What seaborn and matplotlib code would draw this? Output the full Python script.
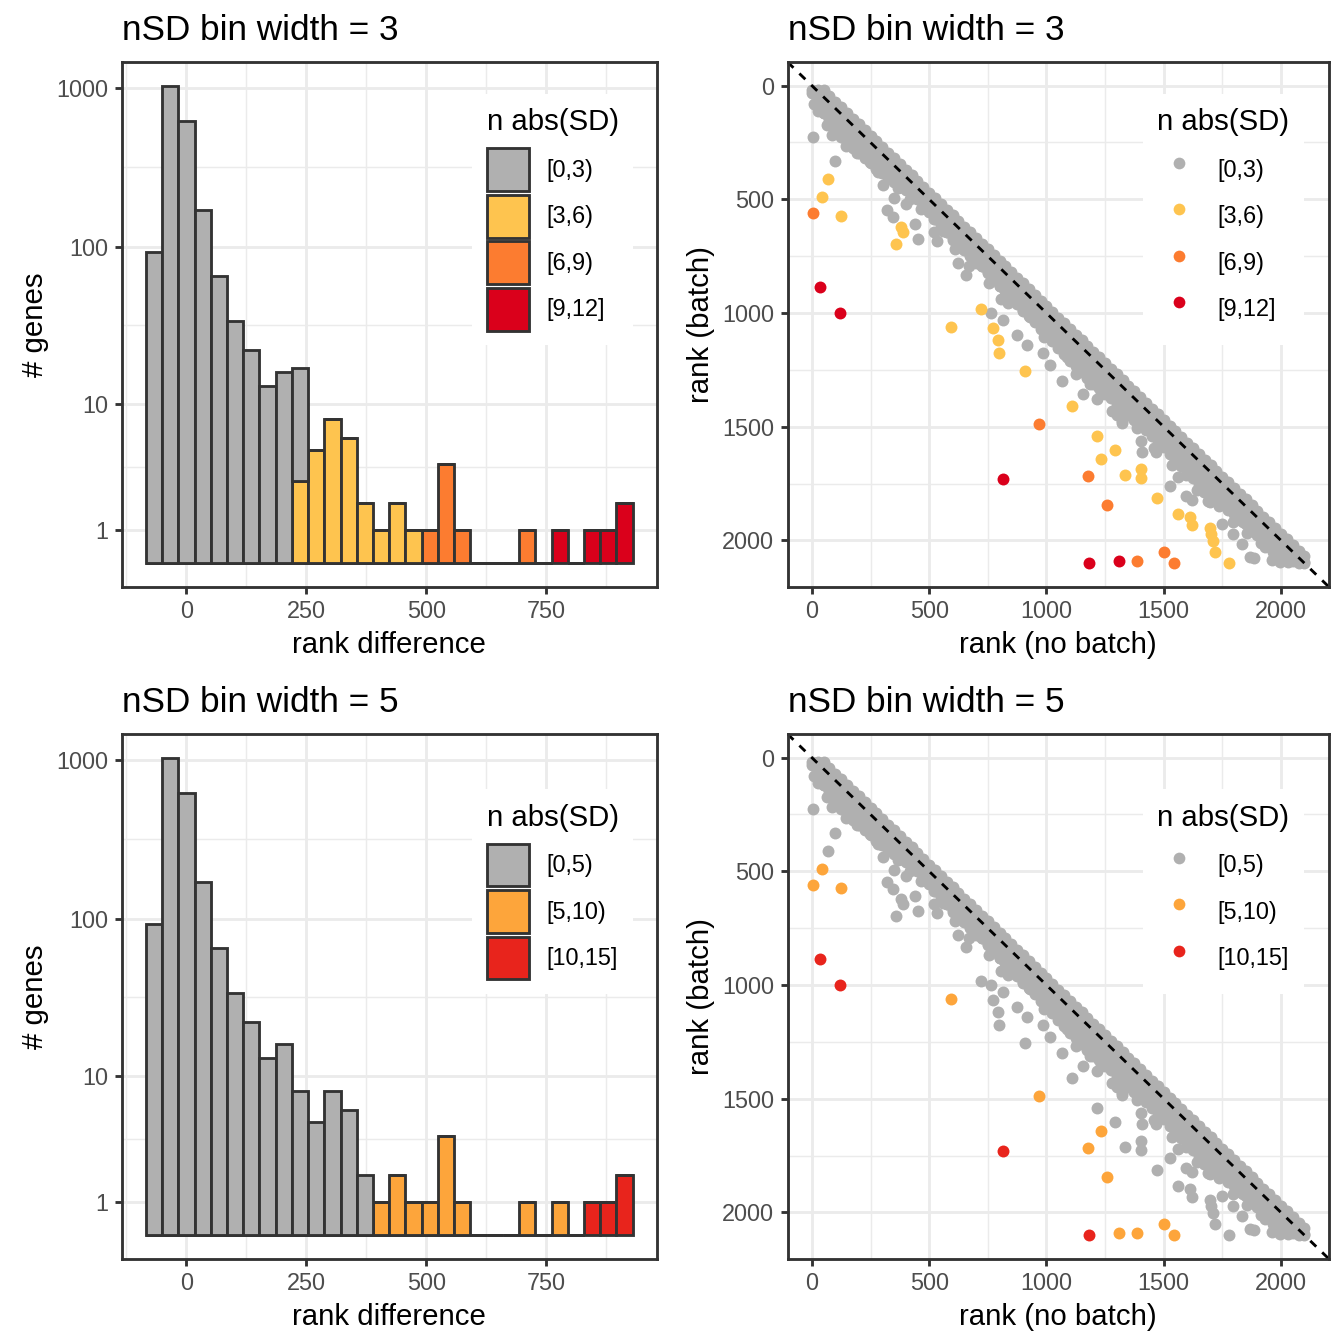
import numpy as np
import pandas as pd
import matplotlib
matplotlib.use("Agg")
import matplotlib.pyplot as plt
import seaborn as sns
from matplotlib.patches import Patch
from matplotlib.lines import Line2D

# ---------------- histogram data (counts per bin of rank difference) ----------------
bin_centers = [-67.7, -33.8, 0.0, 33.8, 67.7, 101.5, 135.4, 169.2, 203.0, 236.9,
               270.7, 304.6, 338.4, 372.3, 406.1, 440.0, 473.8, 507.6, 541.5, 575.3,
               609.2, 643.0, 676.9, 710.7, 744.5, 778.4, 812.2, 846.1, 879.9, 913.7]
bin_width = 33.84

# nSD bin width = 3
top_gray   = [92, 1035, 619, 170, 65, 34, 22, 13, 16, 5, 0, 0, 0, 0, 0, 0, 0, 0, 0, 0, 0, 0, 0, 0, 0, 0, 0, 0, 0, 0]
top_yellow = [0, 0, 0, 0, 0, 0, 0, 0, 0, 3, 5, 8, 6, 2, 1, 2, 1, 0, 0, 0, 0, 0, 0, 0, 0, 0, 0, 0, 0, 0]
top_orange = [0, 0, 0, 0, 0, 0, 0, 0, 0, 0, 0, 0, 0, 0, 0, 0, 0, 1, 4, 1, 0, 0, 0, 1, 0, 0, 0, 0, 0, 0]
top_red    = [0, 0, 0, 0, 0, 0, 0, 0, 0, 0, 0, 0, 0, 0, 0, 0, 0, 0, 0, 0, 0, 0, 0, 0, 0, 1, 0, 1, 1, 2]
# nSD bin width = 5
bot_gray   = [92, 1035, 619, 170, 65, 34, 22, 13, 16, 8, 5, 8, 6, 2, 0, 0, 0, 0, 0, 0, 0, 0, 0, 0, 0, 0, 0, 0, 0, 0]
bot_orange = [0, 0, 0, 0, 0, 0, 0, 0, 0, 0, 0, 0, 0, 0, 1, 2, 1, 1, 4, 1, 0, 0, 0, 1, 0, 1, 0, 0, 0, 0]
bot_red    = [0, 0, 0, 0, 0, 0, 0, 0, 0, 0, 0, 0, 0, 0, 0, 0, 0, 0, 0, 0, 0, 0, 0, 0, 0, 0, 0, 1, 1, 2]

top_levels = ["[0,3)", "[3,6)", "[6,9)", "[9,12]"]
bot_levels = ["[0,5)", "[5,10)", "[10,15]"]
top_colors = ["#B0B0B0", "#FEC44F", "#FC7C30", "#DA001B"]
bot_colors = ["#B0B0B0", "#FDA53B", "#E8241C"]
top_breaks = [0, 3, 6, 9, 12]
bot_breaks = [0, 5, 10, 15]
sd_rank = 80.0

# ---------------- scatter data (rank without / with batch) ----------------
# dense diagonal band: sampled ranks, offsets of its rows and the depth of its lower edge
band_rank = [1, 25, 50, 75, 100, 125, 150, 175, 200, 225, 250, 275, 300, 325, 350, 375, 400,
             425, 450, 475, 500, 525, 550, 575, 600, 625, 650, 675, 700, 725, 750, 775, 800,
             825, 850, 875, 900, 925, 950, 975, 1000, 1025, 1050, 1075, 1100, 1125, 1150, 1175,
             1200, 1225, 1250, 1275, 1300, 1325, 1350, 1375, 1400, 1425, 1450, 1475, 1500, 1525,
             1550, 1575, 1600, 1625, 1650, 1675, 1700, 1725, 1750, 1775, 1800, 1825, 1850, 1875,
             1900, 1925, 1950, 1975, 2000, 2025, 2050, 2075, 2100]
band_deep = [30, 50, 70, 90, 100, 100, 100, 100, 95, 95, 90, 90, 85, 80, 75, 70, 60,
             55, 50, 50, 55, 60, 65, 70, 80, 80, 75, 75, 70, 70, 75, 80, 80,
             80, 85, 85, 90, 90, 90, 95, 100, 100, 105, 105, 110, 110, 110, 110,
             110, 105, 105, 100, 100, 100, 100, 95, 95, 90, 90, 90, 90, 95,
             95, 100, 100, 100, 100, 100, 95, 95, 90, 90, 85, 85, 80, 80,
             75, 70, 65, 60, 55, 50, 40, 25, 0]
band_offset = [-30, -5, 20, 45, 70]

# scattered gray genes off the band
gray_nobatch = [11, 26, 64, 87, 120, 147, 180, 193, 246, 284, 300, 367, 420, 466, 519, 560, 610,
                671, 700, 755, 800, 838, 900, 929, 990, 1000, 1081, 1100, 1127, 1187, 1200, 1233,
                1278, 1300, 1324, 1385, 1400, 1460, 1500, 1536, 1597, 1600, 1673, 1700, 1734,
                1800, 1810, 1855, 1900, 1916, 1992, 2000, 2037,
                6, 97, 302, 349, 401, 319, 346, 440, 451, 519, 534, 621, 656, 808, 765, 815, 876,
                918, 987, 1016, 1066, 1089, 1157, 1217, 1300, 1321, 1403, 1407, 1468, 1529, 1597,
                1643, 1688, 1749, 1794, 1832, 1870, 1886, 1961, 1901, 1563, 1620, 1669, 1698,
                1797, 1839, 1882, 1967, 1995, 2030, 1930, 1960, 2010]
gray_batch   = [82, 111, 171, 215, 200, 267, 250, 297, 334, 378, 370, 452, 500, 542, 586, 640, 720,
                794, 780, 868, 880, 957, 985, 1016, 1105, 1080, 1180, 1170, 1269, 1313, 1280, 1358,
                1432, 1375, 1476, 1506, 1480, 1595, 1575, 1669, 1714, 1680, 1788, 1775, 1847,
                1870, 1907, 1966, 1965, 2010, 2040, 2060, 2070,
                227, 330, 438, 493, 519, 545, 576, 608, 675, 645, 682, 779, 835, 939, 999, 1031, 1098,
                1142, 1177, 1227, 1300, 1194, 1355, 1380, 1447, 1484, 1565, 1610, 1610, 1761, 1803,
                1780, 1825, 1929, 1973, 2018, 2074, 2077, 2085, 1966, 1719, 1822, 1756, 1829,
                1917, 1917, 1954, 2050, 2094, 2094, 2030, 2000, 2060]

# strongly shifted genes
out_nobatch = [68, 43, 123, 380, 387, 358, 721, 594, 774, 793, 796, 908, 1107, 1215, 1293, 1231,
               1333, 1404, 1404, 1470, 1559, 1612, 1620, 1699, 1703, 1711, 1719, 1779,
               6, 967, 1178, 1259, 1385, 1501, 1545,
               36, 120, 815, 1181, 1309]
out_batch   = [412, 488, 573, 623, 645, 696, 984, 1061, 1065, 1117, 1177, 1257, 1411, 1543, 1602, 1642,
               1714, 1688, 1724, 1812, 1883, 1895, 1933, 1944, 1973, 2003, 2052, 2099,
               561, 1488, 1718, 1844, 2089, 2052, 2099,
               886, 1000, 1728, 2099, 2092]

# ---------------- build tables ----------------
def pseudo_log(v):
    return np.arcsinh(np.asarray(v, dtype=float) / 2.0) / np.log(10)

def hist_table(levels, series):
    rows = []
    for lev, cnts in zip(levels, series):
        for c, n in zip(bin_centers, cnts):
            rows.append({"center": c, "cat": lev, "tcount": float(pseudo_log(n))})
    return pd.DataFrame(rows)

hist_top = hist_table(top_levels, [top_gray, top_yellow, top_orange, top_red])
hist_bot = hist_table(bot_levels, [bot_gray, bot_orange, bot_red])

bx, by = [], []
for r, d in zip(band_rank, band_deep):
    for o in band_offset + [d]:
        if o <= d and 1 <= r + o <= 2100:
            bx.append(r)
            by.append(r + o)
sx = np.array(bx + gray_nobatch + out_nobatch, dtype=float)
sy = np.array(by + gray_batch + out_batch, dtype=float)
nsd = np.abs(sy - sx) / sd_rank
scat = pd.DataFrame({"x": sx, "y": sy, "nsd": nsd})
scat["top"] = pd.cut(scat["nsd"], top_breaks, right=False, labels=top_levels, include_lowest=True).astype(str)
scat.loc[scat["nsd"] >= top_breaks[-1], "top"] = top_levels[-1]
scat["bot"] = pd.cut(scat["nsd"], bot_breaks, right=False, labels=bot_levels, include_lowest=True).astype(str)
scat.loc[scat["nsd"] >= bot_breaks[-1], "bot"] = bot_levels[-1]

# ---------------- style ----------------
plt.rcParams["font.family"] = ["Liberation Sans", "DejaVu Sans"]
GRID = "#EBEBEB"
DARK = "#333333"
LW = 1.07

fig = plt.figure(figsize=(7, 7), dpi=192, facecolor="white")
W = H = 1344.0

def make_ax(x0, x1, y0, y1):
    return fig.add_axes([x0 / W, 1 - y1 / H, (x1 - x0) / W, (y1 - y0) / H])

def style_ax(ax):
    ax.set_facecolor("white")
    for s in ax.spines.values():
        s.set_color(DARK)
        s.set_linewidth(LW)
        s.set_zorder(10)
    ax.set_axisbelow(True)
    ax.grid(which="major", color=GRID, lw=LW)
    ax.grid(which="minor", color=GRID, lw=LW / 2)
    ax.tick_params(which="major", length=2.75, width=LW, color=DARK, labelsize=8.8,
                   labelcolor="#4D4D4D", pad=2.2)
    ax.tick_params(which="minor", length=0)

def legend(ax, handles):
    leg = ax.legend(handles=handles, title="n abs(SD)", loc="center", bbox_to_anchor=(0.805, 0.70),
                    frameon=True, fancybox=False, framealpha=1, facecolor="white", edgecolor="none",
                    fontsize=8.8, title_fontsize=11, handlelength=1.83, handleheight=2.44,
                    handletextpad=0.72, labelspacing=0.15, borderpad=0.63, alignment="left",
                    borderaxespad=0)
    if hasattr(leg, "_legend_box") and hasattr(leg._legend_box, "sep"):
        leg._legend_box.sep = 4.5
    leg.set_zorder(5)

centers = np.array(bin_centers)
edges = np.concatenate([centers - bin_width / 2, [centers[-1] + bin_width / 2]])

def hist_panel(ax, df, levels, colors, title):
    sns.histplot(data=df, x="center", weights="tcount", hue="cat", hue_order=levels,
                 palette=colors, bins=len(bin_centers), binrange=(float(edges[0]), float(edges[-1])),
                 multiple="stack", stat="count", alpha=1,
                 edgecolor=DARK, linewidth=LW, legend=False, ax=ax)
    ymax = float(df.groupby("center")["tcount"].sum().max())
    pad = 0.05 * ymax
    ax.set_ylim(-pad, ymax + pad)
    xr = edges[-1] - edges[0]
    ax.set_xlim(edges[0] - 0.05 * xr, edges[-1] + 0.05 * xr)
    majors = pseudo_log([1, 10, 100, 1000])
    ax.set_yticks(majors)
    ax.set_yticklabels(["1", "10", "100", "1000"])
    ax.set_yticks((majors[:-1] + majors[1:]) / 2, minor=True)
    ax.set_xticks([0, 250, 500, 750])
    ax.set_xticks([-125, 125, 375, 625, 875], minor=True)
    style_ax(ax)
    ax.set_xlabel("rank difference", fontsize=11, labelpad=2.75)
    ax.set_ylabel("# genes", fontsize=11, labelpad=2.75)
    ax.set_title(title, loc="left", fontsize=13.2, pad=8.2)
    legend(ax, [Patch(facecolor=c, edgecolor=DARK, linewidth=LW, label=l) for l, c in zip(levels, colors)])

def scatter_panel(ax, col, levels, colors, title):
    for lev, c in zip(levels, colors):
        sub = scat[scat[col] == lev]
        sns.scatterplot(data=sub, x="x", y="y", color=c, s=20, linewidth=0, alpha=1,
                        legend=False, ax=ax, zorder=3)
    lo = min(scat["x"].min(), scat["y"].min())
    hi = max(scat["x"].max(), scat["y"].max())
    pad = 0.05 * (hi - lo)
    ax.set_xlim(lo - pad, hi + pad)
    ax.set_ylim(hi + pad, lo - pad)
    ax.axline((0, 0), (1, 1), color="black", lw=LW, ls=(0, (2.9, 2.9)), zorder=4)
    ticks = [0, 500, 1000, 1500, 2000]
    ax.set_xticks(ticks)
    ax.set_yticks(ticks)
    ax.set_xticks([250, 750, 1250, 1750], minor=True)
    ax.set_yticks([250, 750, 1250, 1750], minor=True)
    style_ax(ax)
    ax.set_xlabel("rank (no batch)", fontsize=11, labelpad=2.75)
    ax.set_ylabel("rank (batch)", fontsize=11, labelpad=2.75)
    ax.set_title(title, loc="left", fontsize=13.2, pad=8.2)
    legend(ax, [Line2D([], [], marker="o", ls="", markersize=4.4, markerfacecolor=c,
                       markeredgecolor="none", label=l) for l, c in zip(levels, colors)])

ax1 = make_ax(121.5, 657, 62, 587)
ax2 = make_ax(787.5, 1329, 62, 587)
ax3 = make_ax(121.5, 657, 734, 1259)
ax4 = make_ax(787.5, 1329, 734, 1259)

hist_panel(ax1, hist_top, top_levels, top_colors, "nSD bin width = 3")
scatter_panel(ax2, "top", top_levels, top_colors, "nSD bin width = 3")
hist_panel(ax3, hist_bot, bot_levels, bot_colors, "nSD bin width = 5")
scatter_panel(ax4, "bot", bot_levels, bot_colors, "nSD bin width = 5")

fig.savefig("out.png", dpi=192, facecolor="white")
